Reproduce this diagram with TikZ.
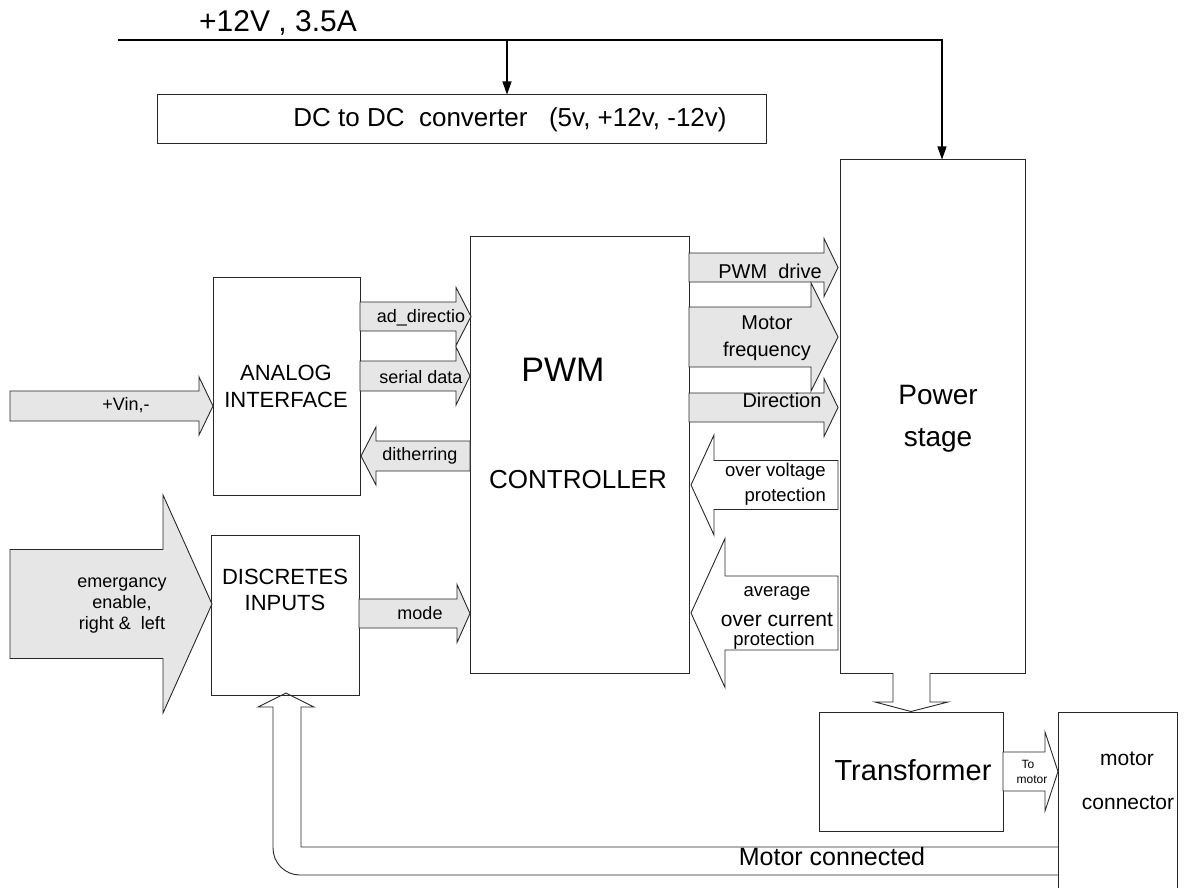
\documentclass[tikz,border=0pt]{standalone}
\usepackage{fontspec}
\setmainfont{Liberation Sans}
\usetikzlibrary{arrows.meta}
\definecolor{afill}{RGB}{230,230,230}
\definecolor{lc}{RGB}{40,40,40}
\newcommand{\fsz}[2]{\fontsize{#1}{#2}\selectfont}
\newcommand{\mybox}[5]{%
  \pgfmathsetmacro\bxw{#4-#2}\pgfmathsetmacro\bxh{#5-#3}%
  \node[box, minimum width=\bxw pt, minimum height=\bxh pt] (#1) at ({(#2+#4)/2},{(#3+#5)/2}) {};}
% style, x0 (tail), xb (head base), xt (tip), yc, body half height, head half height
\newcommand{\harrow}[7]{%
  \pgfmathsetmacro\hAa{#5-#6}\pgfmathsetmacro\hAb{#5+#6}%
  \pgfmathsetmacro\hAc{#5-#7}\pgfmathsetmacro\hAd{#5+#7}%
  \draw[#1] (#2,\hAa) -- (#3,\hAa) -- (#3,\hAc) -- (#4,#5) -- (#3,\hAd) -- (#3,\hAb) -- (#2,\hAb) -- cycle;}
\tikzset{
  box/.style={draw=lc, line width=1pt, inner sep=0pt, fill=white},
  lbl/.style={inner sep=0pt, align=center, font=\fsz{18}{21}},
  garrow/.style={draw=lc, line width=0.9pt, fill=afill},
  warrow/.style={draw=lc, line width=0.9pt, fill=white},
  feed/.style={-{Triangle[length=13pt,width=9pt]}, line width=1.2pt, draw=black}
}
\begin{document}
\begin{tikzpicture}[x=1pt,y=-1pt]
\useasboundingbox (0,0) rectangle (1184,888);
\clip (0,0) rectangle (1184,888);
\fill[white] (0,0) rectangle (1184,888);

% boxes
\mybox{dc}{157}{95}{766}{144}
\mybox{ps}{840}{160}{1025}{673}
\mybox{pwm}{470}{236}{689}{673}
\mybox{ana}{213}{277}{360}{495}
\mybox{dis}{211}{535}{359}{695}
\mybox{tr}{819}{712}{1003}{831}
\mybox{mc}{1058}{712}{1177}{905}

% supply line
\coordinate (src) at (118,40);
\coordinate (tapdc) at (507,40);
\coordinate (tapps) at (942,40);
\draw[feed] (src) -- (tapps) -- (tapps |- ps.north);
\draw[feed] (tapdc) -- (tapdc |- dc.north);

% block arrows (grey)
\harrow{garrow}{10}{199}{213}{406}{15}{29}
\harrow{garrow}{10}{163}{212}{604}{54.5}{109}
\harrow{garrow}{360}{456}{471}{316.5}{14.5}{29}
\harrow{garrow}{360}{456}{470}{376}{15}{29}
\harrow{garrow}{470}{376}{361}{456}{15}{29}
\harrow{garrow}{359}{457}{470}{613.5}{14.5}{29}
\harrow{garrow}{689}{824}{838}{267.5}{14.5}{29}
\harrow{garrow}{689}{811}{838}{337}{30}{54}
\harrow{garrow}{689}{824}{838}{407.5}{14.5}{29}
% block arrows (white)
\harrow{warrow}{838}{714}{691}{485}{24.5}{50}
\harrow{warrow}{838}{725}{691}{613}{37}{74.5}
\harrow{warrow}{1003}{1045}{1058}{771.5}{19.5}{39.5}
\draw[warrow] (893,673) -- (893,702) -- (875,702) -- (tr.north) -- (948,702) -- (930,702) -- (930,673);
% feedback arrow
\draw[draw=lc, line width=0.9pt] (1058,847) -- (301,847) -- (301,707) -- (314,707) -- (286,693)
  -- (258,707) -- (273,707) -- (273,848) .. controls (273,863) and (285,875) .. (300,875) -- (1058,875);

% texts
\node[lbl, font=\fsz{30}{34}] (t12) at (278,23) {+12V , 3.5A};
\node[lbl, font=\fsz{26}{30}] (dct) at (510,120) {DC to DC\ \ converter\ \ \ (5v, +12v, -12v)};
\node[lbl, font=\fsz{28}{42}] (pst) at (938,419) {Power\\stage};
\node[lbl, font=\fsz{34}{38}] (pwmt) at (563,370) {PWM};
\node[lbl, font=\fsz{26}{30}] (ctrlt) at (578,480) {CONTROLLER};
\node[lbl, font=\fsz{22}{27}] (anat) at (286,386) {ANALOG\\INTERFACE};
\node[lbl, font=\fsz{22}{26}] (dist) at (285,590) {DISCRETES\\INPUTS};
\node[lbl, font=\fsz{29}{33}] (trt) at (913,770) {Transformer};
\node[lbl, font=\fsz{21}{25}] (mct1) at (1127,759) {motor};
\node[lbl, font=\fsz{21}{25}] (mct2) at (1128,803) {connector};
\node[lbl, font=\fsz{25}{29}] (mcon) at (832,857) {Motor connected};

\node[lbl] (vin) at (126,405) {+Vin,-};
\node[lbl] (add) at (421,318) {ad\_directio};
\node[lbl] (ser) at (421,377) {serial data};
\node[lbl] (dit) at (420,456) {ditherring};
\node[lbl] (mode) at (420,613) {mode};
\node[lbl, font=\fsz{18}{21}] (emg) at (122,606) {emergancy\\enable,\\right \&\ \ left};
\node[lbl, font=\fsz{20}{24}] (pwmd) at (770,271) {PWM\ \ drive};
\node[lbl, font=\fsz{20}{27}] (mf) at (767,338) {Motor\\frequency};
\node[lbl, font=\fsz{20}{24}] (dirl) at (782,400) {Direction};
\node[lbl, align=right, anchor=east, font=\fsz{18.5}{25}] (ov) at (826,484) {over voltage\\protection};
\node[lbl, font=\fsz{18.5}{22}] (avg) at (777,593) {average};
\node[lbl, font=\fsz{21}{24}] (oc) at (777,620) {over current};
\node[lbl, font=\fsz{18.5}{22}] (ocp) at (774,641) {protection};
\node[lbl, font=\fsz{12}{14}] (to1) at (1028,764) {To};
\node[lbl, font=\fsz{12}{14}] (to2) at (1032,780) {motor};
\end{tikzpicture}
\end{document}
